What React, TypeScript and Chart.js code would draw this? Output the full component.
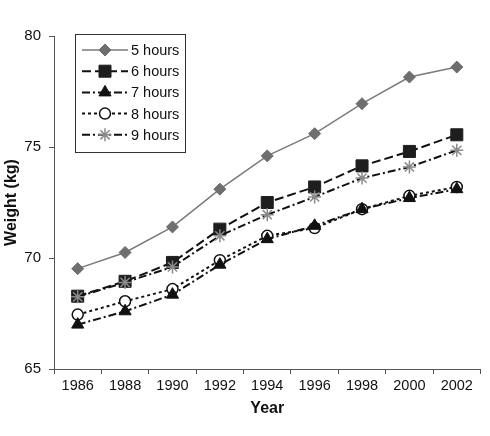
import React, { useEffect, useRef } from 'react';
import { Chart, registerables } from 'chart.js';

Chart.register(...registerables);

const years = ['1986', '1988', '1990', '1992', '1994', '1996', '1998', '2000', '2002'];
const fiveHours = [69.52, 70.25, 71.4, 73.1, 74.6, 75.6, 76.95, 78.15, 78.6];
const sixHours = [68.28, 68.95, 69.8, 71.3, 72.5, 73.2, 74.15, 74.8, 75.55];
const sevenHours = [67.0, 67.6, 68.35, 69.7, 70.85, 71.45, 72.2, 72.7, 73.1];
const eightHours = [67.45, 68.05, 68.6, 69.9, 71.0, 71.35, 72.2, 72.8, 73.2];
const nineHours = [68.25, 68.9, 69.6, 71.0, 71.95, 72.75, 73.6, 74.1, 74.85];
const seriesLabels = ['5 hours', '6 hours', '7 hours', '8 hours', '9 hours'];
const yTicks = [65, 70, 75, 80];

const FONT = '"Liberation Sans", Arial, sans-serif';

type Sty = {
  color: string;
  width: number;
  dash: number[];
  shape: string;
  radius: number;
  fill: string;
  stroke: string;
  pw: number;
  order: number;
};

const styles: Sty[] = [
  { color: '#7a7a7a', width: 1.5, dash: [], shape: 'rectRot', radius: 6, fill: '#6e6e6e', stroke: '#6e6e6e', pw: 1, order: 0 },
  { color: '#111111', width: 2, dash: [9, 4], shape: 'rect', radius: 8.5, fill: '#1e1e1e', stroke: '#1e1e1e', pw: 1, order: 3 },
  { color: '#111111', width: 2, dash: [8, 3, 2, 3], shape: 'triangle', radius: 7, fill: '#111111', stroke: '#111111', pw: 1, order: 1 },
  { color: '#111111', width: 2, dash: [3, 3], shape: 'circle', radius: 5.5, fill: '#ffffff', stroke: '#111111', pw: 1.5, order: 4 },
  { color: '#111111', width: 2, dash: [8, 3, 2, 3], shape: 'star', radius: 6.5, fill: '#999999', stroke: '#8a8a8a', pw: 1.5, order: 2 },
];

function drawMarker(ctx: CanvasRenderingContext2D, s: Sty, x: number, y: number) {
  const r = s.radius;
  ctx.save();
  ctx.setLineDash([]);
  ctx.fillStyle = s.fill;
  ctx.strokeStyle = s.stroke;
  ctx.lineWidth = s.pw;
  ctx.beginPath();
  if (s.shape === 'rectRot') {
    ctx.moveTo(x - r, y);
    ctx.lineTo(x, y - r);
    ctx.lineTo(x + r, y);
    ctx.lineTo(x, y + r);
    ctx.closePath();
    ctx.fill();
    ctx.stroke();
  } else if (s.shape === 'rect') {
    const h = r * Math.SQRT1_2;
    ctx.rect(x - h, y - h, 2 * h, 2 * h);
    ctx.fill();
    ctx.stroke();
  } else if (s.shape === 'triangle') {
    let a = 0;
    ctx.moveTo(x + Math.sin(a) * r, y - Math.cos(a) * r);
    a += (2 * Math.PI) / 3;
    ctx.lineTo(x + Math.sin(a) * r, y - Math.cos(a) * r);
    a += (2 * Math.PI) / 3;
    ctx.lineTo(x + Math.sin(a) * r, y - Math.cos(a) * r);
    ctx.closePath();
    ctx.fill();
    ctx.stroke();
  } else if (s.shape === 'circle') {
    ctx.arc(x, y, r, 0, Math.PI * 2);
    ctx.fill();
    ctx.stroke();
  } else if (s.shape === 'star') {
    for (let i = 0; i < 4; i++) {
      const a = (i * Math.PI) / 4;
      ctx.moveTo(x - Math.cos(a) * r, y - Math.sin(a) * r);
      ctx.lineTo(x + Math.cos(a) * r, y + Math.sin(a) * r);
    }
    ctx.stroke();
  }
  ctx.restore();
}

const boxLegend = {
  id: 'boxLegend',
  afterDraw(chart: any) {
    const ctx: CanvasRenderingContext2D = chart.ctx;
    const left = 75.5;
    const top = 34.5;
    const w = 110;
    const h = 118;
    ctx.save();
    ctx.fillStyle = '#ffffff';
    ctx.fillRect(left, top, w, h);
    ctx.strokeStyle = '#333333';
    ctx.lineWidth = 1;
    ctx.strokeRect(left, top, w, h);
    seriesLabels.forEach((label, i) => {
      const s = styles[i];
      const y = 50 + i * 21.2;
      ctx.save();
      ctx.strokeStyle = s.color;
      ctx.lineWidth = s.width;
      ctx.setLineDash(s.dash);
      ctx.beginPath();
      ctx.moveTo(82, y);
      ctx.lineTo(128, y);
      ctx.stroke();
      ctx.restore();
      drawMarker(ctx, s, 105, y);
      ctx.fillStyle = '#111111';
      ctx.font = `14.5px ${FONT}`;
      ctx.textBaseline = 'middle';
      ctx.textAlign = 'left';
      ctx.fillText(label, 131, y + 1);
    });
    ctx.restore();
  },
};

export default function App() {
  const ref = useRef<HTMLCanvasElement>(null);

  useEffect(() => {
    const canvas = ref.current;
    if (!canvas) return;
    const seriesData = [fiveHours, sixHours, sevenHours, eightHours, nineHours];
    const datasets = seriesData.map((d, i) => {
      const s = styles[i];
      return {
        label: seriesLabels[i],
        data: d,
        borderColor: s.color,
        borderWidth: s.width,
        borderDash: s.dash,
        backgroundColor: s.fill,
        pointStyle: s.shape,
        pointRadius: s.radius,
        pointBackgroundColor: s.fill,
        pointBorderColor: s.stroke,
        pointBorderWidth: s.pw,
        tension: 0,
        fill: false,
        order: s.order,
      };
    });

    const chart = new Chart(canvas, {
      type: 'line',
      data: { labels: years, datasets },
      options: {
        responsive: false,
        animation: false,
        events: [],
        layout: { padding: { top: 36, left: 2, right: 4, bottom: 18 } },
        plugins: {
          legend: { display: false },
          tooltip: { enabled: false },
        },
        scales: {
          x: {
            type: 'category',
            offset: true,
            grid: {
              offset: true,
              drawOnChartArea: false,
              drawTicks: true,
              tickLength: 5,
              color: '#555555',
            },
            border: { display: true, color: '#555555', width: 1 },
            ticks: {
              color: '#111111',
              padding: 3,
              maxRotation: 0,
              autoSkip: false,
              font: { family: FONT, size: 14.5 },
            },
            title: {
              display: true,
              text: 'Year',
              color: '#111111',
              padding: 0,
              font: { family: FONT, size: 16, weight: 'bold' },
            },
            afterFit: (s: any) => {
              s.height = 49;
            },
          },
          y: {
            min: 65,
            max: 80,
            afterBuildTicks: (s: any) => {
              s.ticks = yTicks.map((v) => ({ value: v }));
            },
            grid: {
              drawOnChartArea: false,
              drawTicks: true,
              tickLength: 5,
              color: '#555555',
            },
            border: { display: true, color: '#555555', width: 1 },
            ticks: {
              color: '#111111',
              padding: 8,
              font: { family: FONT, size: 15 },
            },
            title: {
              display: true,
              text: 'Weight (kg)',
              color: '#111111',
              padding: 0,
              font: { family: FONT, size: 16, weight: 'bold' },
            },
            afterFit: (s: any) => {
              s.width = 52;
            },
          },
        },
      } as any,
      plugins: [boxLegend],
    });
    return () => chart.destroy();
  }, []);

  return (
    <div style={{ position: 'fixed', left: 0, top: 0, width: 490, height: 436, background: '#ffffff' }}>
      <canvas ref={ref} width={490} height={436} style={{ display: 'block', width: 490, height: 436 }} />
    </div>
  );
}
